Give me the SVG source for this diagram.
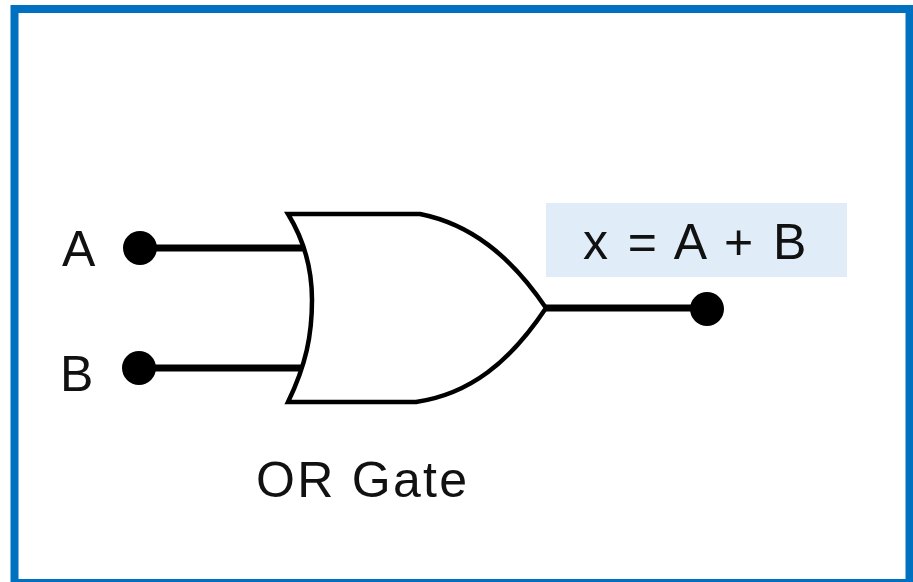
<svg xmlns="http://www.w3.org/2000/svg" width="913" height="582" viewBox="0 0 913 582">
<style>
text{font-family:"Liberation Sans",Arial,sans-serif;fill:#111}
.w{stroke:#000;stroke-width:7;fill:none}
.d{fill:#000}
.t{font-size:50px}
</style>
<rect width="913" height="582" fill="#fff"/>
<rect id="frame" x="14.500" y="9" width="895" height="574" fill="none" stroke="#0070c0" stroke-width="8"/>
<rect id="highlight" x="546" y="203" width="301" height="74" fill="#e0edf8"/>
<g id="connectors">
<path class="w" d="M140 248H304"/>
<path class="w" d="M139 368H303"/>
<path class="w" d="M546 308H707"/>
</g>
<g id="or-gate">
<path d="M288 214H420C470 224 510 255 546 308C510 362 470 394 416 402H288C306 365 312 335 312 300C312 270 304 240 288 214Z" fill="#fff" stroke="#000" stroke-width="4.500"/>
</g>
<g id="input-a"><circle class="d" cx="140" cy="248" r="17"/><text class="t" x="62" y="266">A</text></g>
<g id="input-b"><circle class="d" cx="139" cy="368" r="17"/><text class="t" x="60" y="391">B</text></g>
<g id="output"><circle class="d" cx="707" cy="309" r="17"/><text class="t" x="583" y="259" xml:space="preserve" letter-spacing="2.900">x = A + B</text></g>
<g id="label"><text class="t" x="256" y="497" letter-spacing="2.300">OR Gate</text></g>
</svg>
